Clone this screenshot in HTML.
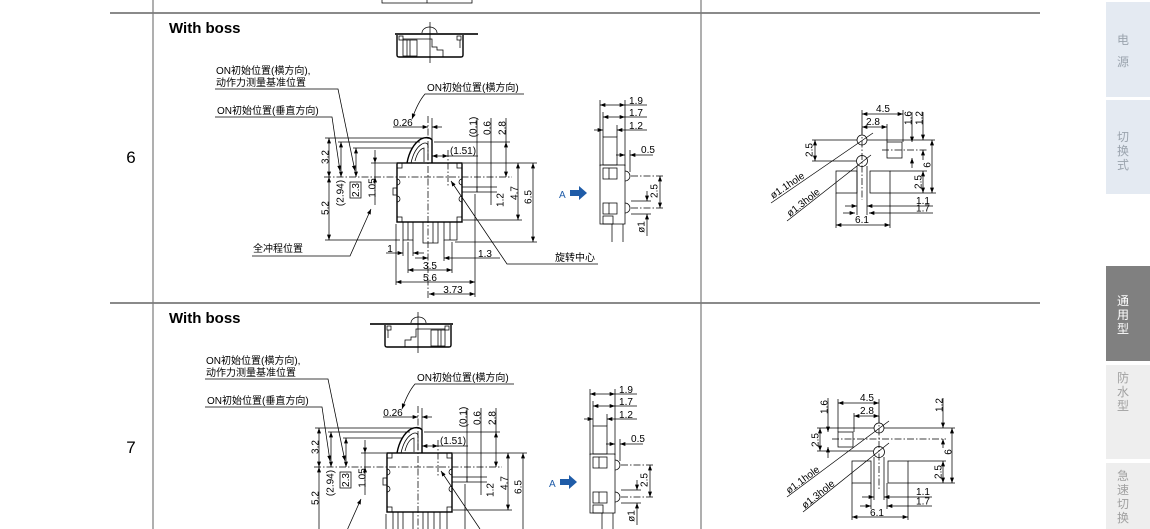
<!DOCTYPE html>
<html><head><meta charset="utf-8">
<style>
html,body{margin:0;padding:0;background:#fff;width:1150px;height:529px;overflow:hidden}
#w{position:relative;width:1150px;height:529px;overflow:hidden}
svg{display:block;overflow:hidden}
.d line,.d path,.d polyline,.d rect,.d circle{fill:none;stroke:#000;stroke-width:.75}
.b{fill:none;stroke:#000;stroke-width:1.4}
.c{stroke-dasharray:7,2,1.5,2}
text{font-family:"Liberation Sans","Noto Sans CJK SC",sans-serif;font-size:10px;fill:#000}
.m{text-anchor:middle}
.sb{font-size:12px;text-anchor:middle}
</style></head>
<body><div id="w">
<svg width="1150" height="529" viewBox="0 0 1150 529" xmlns="http://www.w3.org/2000/svg">
<defs>
<marker id="ar" viewBox="0 0 8 6" refX="8" refY="3" markerWidth="6" markerHeight="4" orient="auto-start-reverse" markerUnits="userSpaceOnUse"><path d="M0,0 L8,3 L0,6z" fill="#000"/></marker>
</defs>

<!-- table frame -->
<line x1="110" y1="13" x2="1040" y2="13" stroke="#8a8a8a" stroke-width="2"/>
<line x1="110" y1="303" x2="1040" y2="303" stroke="#8a8a8a" stroke-width="2"/>
<line x1="153" y1="0" x2="153" y2="529" stroke="#7a7a7a" stroke-width="1.2"/>
<line x1="701" y1="0" x2="701" y2="529" stroke="#7a7a7a" stroke-width="1.2"/>

<!-- previous row remnant -->
<g class="d"><path d="M382,0 V3 H472 V0"/><line x1="427" y1="0" x2="427" y2="3"/></g>

<!-- row numbers -->
<text x="131" y="163" class="m" style="font-size:17px">6</text>
<text x="131" y="453" class="m" style="font-size:17px">7</text>

<text x="169" y="33" style="font-size:15px;font-weight:bold">With boss</text>
<text x="169" y="323" style="font-size:15px;font-weight:bold">With boss</text>

<!-- ===== ROW 6 top view ===== -->
<g>
<line x1="395" y1="34" x2="478" y2="34" stroke="#333" stroke-width="2"/>
<path class="b" d="M397,35 V55 Q397,57 399,57 H461 Q463,57 463,55 V35"/>
<g class="d">
<path d="M422,33 A7.5,6 0 0 1 437,33"/>
<line x1="430" y1="22" x2="430" y2="63"/>
<rect x="403" y="40" width="14" height="16"/>
<line x1="407" y1="40" x2="407" y2="56"/><line x1="410" y1="40" x2="410" y2="56"/>
<path d="M403,39 H432 V47 H437 V50 H443 V57"/>
<rect x="399" y="36" width="4" height="4"/><rect x="457" y="36" width="4" height="4"/>
<line x1="460" y1="40" x2="460" y2="48"/>
</g></g>

<!-- ===== ROW 7 top view (mirrored) ===== -->
<g transform="translate(848,290) scale(-1,1)">
<line x1="395" y1="34" x2="478" y2="34" stroke="#333" stroke-width="2"/>
<path class="b" d="M397,35 V55 Q397,57 399,57 H461 Q463,57 463,55 V35"/>
<g class="d">
<path d="M422,33 A7.5,6 0 0 1 437,33"/>
<line x1="430" y1="22" x2="430" y2="63"/>
<rect x="403" y="40" width="14" height="16"/>
<line x1="407" y1="40" x2="407" y2="56"/><line x1="410" y1="40" x2="410" y2="56"/>
<path d="M403,39 H432 V47 H437 V50 H443 V57"/>
<rect x="399" y="36" width="4" height="4"/><rect x="457" y="36" width="4" height="4"/>
<line x1="460" y1="40" x2="460" y2="48"/>
</g></g>

<!-- ===== ROW 6 main drawing ===== -->
<g>
<g class="d">
 <polyline points="215,89 338,89 355,171" marker-end="url(#ar)"/>
 <polyline points="215,117 332,117 340,171" marker-end="url(#ar)"/>
 <path d="M524,94 H425 Q418,102 412,119" marker-end="url(#ar)"/>
 <line class="c" x1="428" y1="116" x2="428" y2="298"/>
 <line class="c" x1="324" y1="177" x2="512" y2="177"/>
 <line x1="325" y1="138" x2="427" y2="138"/>
 <line x1="338" y1="142" x2="420" y2="142"/>
 <line x1="434" y1="142" x2="510" y2="142"/>
 <line x1="353" y1="148" x2="412" y2="148"/>
 <line x1="371" y1="163" x2="396" y2="163"/>
 <line x1="325" y1="240" x2="400" y2="240"/>
 <line x1="455" y1="242" x2="537" y2="242"/>
 <line x1="463" y1="163" x2="537" y2="163"/>
 <line x1="463" y1="220" x2="522" y2="220"/>
 <line x1="477" y1="187" x2="497" y2="187"/>
 <line x1="477" y1="192" x2="497" y2="192"/>
 <line x1="329" y1="138" x2="329" y2="177" marker-start="url(#ar)" marker-end="url(#ar)"/>
 <line x1="329" y1="177" x2="329" y2="240" marker-start="url(#ar)" marker-end="url(#ar)"/>
 <line x1="341" y1="142" x2="341" y2="177" marker-start="url(#ar)" marker-end="url(#ar)"/>
 <line x1="356" y1="148" x2="356" y2="177" marker-start="url(#ar)" marker-end="url(#ar)"/>
 <line x1="375" y1="150" x2="375" y2="163" marker-end="url(#ar)"/>
 <line x1="375" y1="163" x2="375" y2="177"/>
 <line x1="375" y1="205" x2="375" y2="177" marker-end="url(#ar)"/>
 <line x1="477" y1="118" x2="477" y2="192"/>
 <line x1="491" y1="118" x2="491" y2="205"/>
 <line x1="506" y1="118" x2="506" y2="142"/>
 <line x1="506" y1="142" x2="506" y2="177" marker-start="url(#ar)" marker-end="url(#ar)"/>
 <line x1="518" y1="163" x2="518" y2="220" marker-start="url(#ar)" marker-end="url(#ar)"/>
 <line x1="533" y1="163" x2="533" y2="242" marker-start="url(#ar)" marker-end="url(#ar)"/>
 <line x1="432" y1="156" x2="448" y2="156" marker-start="url(#ar)" marker-end="url(#ar)"/>
 <line x1="448" y1="156" x2="478" y2="156"/>
 <line class="c" x1="448" y1="150" x2="448" y2="186"/>
 <line x1="393" y1="127" x2="428" y2="127" marker-end="url(#ar)"/>
 <line x1="442" y1="127" x2="432" y2="127" marker-end="url(#ar)"/>
 <line x1="432" y1="118" x2="432" y2="142"/>
 <rect x="397" y="163" width="5" height="5"/><rect x="457" y="163" width="5" height="5"/>
 <rect x="397" y="217" width="5" height="5"/><rect x="457" y="217" width="5" height="5"/>
 <path d="M397,179 a3,3 0 0 1 0,6"/><path d="M397,196 a3,3 0 0 1 0,6"/>
 <path d="M462,179 a3,3 0 0 0 0,6"/><path d="M462,196 a3,3 0 0 0 0,6"/>
 <rect x="393" y="188" width="4" height="7"/>
 <rect x="462" y="187" width="15" height="5"/>
 <path d="M411,163 C413,154 417,147 422,144 C425,142 428,143 428,146 L428,160"/>
 <path d="M415,161 C417,153 420,149 424,148 L424,162"/>
 <rect x="403" y="222" width="10" height="18"/>
 <rect x="423" y="222" width="15" height="21"/>
 <rect x="444" y="222" width="13" height="18"/>
 <line x1="408" y1="222" x2="408" y2="240"/><line x1="433" y1="222" x2="433" y2="243"/><line x1="450" y1="222" x2="450" y2="240"/>
 <line x1="386" y1="253" x2="403" y2="253" marker-end="url(#ar)"/>
 <line x1="424" y1="253" x2="413" y2="253" marker-end="url(#ar)"/>
 <line x1="403" y1="240" x2="403" y2="256"/><line x1="413" y1="240" x2="413" y2="256"/>
 <line x1="415" y1="258" x2="428" y2="258" marker-end="url(#ar)"/>
 <line x1="500" y1="258" x2="444" y2="258" marker-end="url(#ar)"/>
 <line x1="444" y1="240" x2="444" y2="261"/>
 <line x1="408" y1="270" x2="452" y2="270" marker-start="url(#ar)" marker-end="url(#ar)"/>
 <line x1="408" y1="242" x2="408" y2="273"/><line x1="452" y1="242" x2="452" y2="273"/>
 <line x1="396" y1="282" x2="475" y2="282" marker-start="url(#ar)" marker-end="url(#ar)"/>
 <line x1="396" y1="224" x2="396" y2="285"/>
 <line x1="475" y1="194" x2="475" y2="297"/>
 <line x1="429" y1="294" x2="475" y2="294" marker-start="url(#ar)" marker-end="url(#ar)"/>
 <polyline points="252,256 350,256 371,209" marker-end="url(#ar)"/>
 <polyline points="598,264 507,264 451,181" marker-end="url(#ar)"/>
 <rect x="350" y="182" width="11" height="16"/>
</g>
<rect class="b" x="397" y="163" width="65" height="59"/>
<path class="b" d="M407,163 C409,152 414,143 421,139 C425,137 430,137 432,140 L432,163"/>
<text x="216" y="74">ON初始位置(横方向),</text>
<text x="216" y="86">动作力测量基准位置</text>
<text x="217" y="114">ON初始位置(垂直方向)</text>
<text x="427" y="91">ON初始位置(横方向)</text>
<text x="253" y="252">全冲程位置</text>
<text x="555" y="261">旋转中心</text>
<text x="403" y="126" class="m">0.26</text>
<text x="463" y="154" class="m">(1.51)</text>
<text x="390" y="252" class="m">1</text>
<text x="485" y="257" class="m">1.3</text>
<text x="430" y="269" class="m">3.5</text>
<text x="430" y="281" class="m">5.6</text>
<text x="453" y="293" class="m">3.73</text>
<text class="m" dy="3.5" transform="translate(325,157) rotate(-90)">3.2</text>
<text class="m" dy="3.5" transform="translate(325,208) rotate(-90)">5.2</text>
<text class="m" dy="3.5" transform="translate(340,193) rotate(-90)">(2.94)</text>
<text class="m" dy="3.5" transform="translate(355.5,190) rotate(-90)">2.3</text>
<text class="m" dy="3.5" transform="translate(372,188) rotate(-90)">1.05</text>
<text class="m" dy="3.5" transform="translate(473,127) rotate(-90)">(0.1)</text>
<text class="m" dy="3.5" transform="translate(487,128) rotate(-90)">0.6</text>
<text class="m" dy="3.5" transform="translate(502,128) rotate(-90)">2.8</text>
<text class="m" dy="3.5" transform="translate(500,200) rotate(-90)">1.2</text>
<text class="m" dy="3.5" transform="translate(514,193) rotate(-90)">4.7</text>
<text class="m" dy="3.5" transform="translate(528,197) rotate(-90)">6.5</text>
</g>

<!-- ===== ROW 7 main drawing (trimmed at frame bottom) ===== -->
<g transform="translate(-10,290)">
<g class="d">
 <polyline points="215,89 338,89 355,171" marker-end="url(#ar)"/>
 <polyline points="215,117 332,117 340,171" marker-end="url(#ar)"/>
 <path d="M524,94 H425 Q418,102 412,119" marker-end="url(#ar)"/>
 <line class="c" x1="428" y1="116" x2="428" y2="239"/>
 <line class="c" x1="324" y1="177" x2="512" y2="177"/>
 <line x1="325" y1="138" x2="427" y2="138"/>
 <line x1="338" y1="142" x2="420" y2="142"/>
 <line x1="434" y1="142" x2="510" y2="142"/>
 <line x1="353" y1="148" x2="412" y2="148"/>
 <line x1="371" y1="163" x2="396" y2="163"/>
 <line x1="463" y1="163" x2="537" y2="163"/>
 <line x1="463" y1="220" x2="522" y2="220"/>
 <line x1="477" y1="187" x2="497" y2="187"/>
 <line x1="477" y1="192" x2="497" y2="192"/>
 <line x1="329" y1="138" x2="329" y2="177" marker-start="url(#ar)" marker-end="url(#ar)"/>
 <line x1="329" y1="177" x2="329" y2="239" marker-start="url(#ar)"/>
 <line x1="341" y1="142" x2="341" y2="177" marker-start="url(#ar)" marker-end="url(#ar)"/>
 <line x1="356" y1="148" x2="356" y2="177" marker-start="url(#ar)" marker-end="url(#ar)"/>
 <line x1="375" y1="150" x2="375" y2="163" marker-end="url(#ar)"/>
 <line x1="375" y1="163" x2="375" y2="177"/>
 <line x1="375" y1="205" x2="375" y2="177" marker-end="url(#ar)"/>
 <line x1="477" y1="118" x2="477" y2="192"/>
 <line x1="491" y1="118" x2="491" y2="205"/>
 <line x1="506" y1="118" x2="506" y2="142"/>
 <line x1="506" y1="142" x2="506" y2="177" marker-start="url(#ar)" marker-end="url(#ar)"/>
 <line x1="518" y1="163" x2="518" y2="220" marker-start="url(#ar)" marker-end="url(#ar)"/>
 <line x1="533" y1="163" x2="533" y2="239" marker-start="url(#ar)"/>
 <line x1="432" y1="156" x2="448" y2="156" marker-start="url(#ar)" marker-end="url(#ar)"/>
 <line x1="448" y1="156" x2="478" y2="156"/>
 <line class="c" x1="448" y1="150" x2="448" y2="186"/>
 <line x1="393" y1="127" x2="428" y2="127" marker-end="url(#ar)"/>
 <line x1="442" y1="127" x2="432" y2="127" marker-end="url(#ar)"/>
 <line x1="432" y1="118" x2="432" y2="142"/>
 <rect x="397" y="163" width="5" height="5"/><rect x="457" y="163" width="5" height="5"/>
 <rect x="397" y="217" width="5" height="5"/><rect x="457" y="217" width="5" height="5"/>
 <path d="M397,179 a3,3 0 0 1 0,6"/><path d="M397,196 a3,3 0 0 1 0,6"/>
 <path d="M462,179 a3,3 0 0 0 0,6"/><path d="M462,196 a3,3 0 0 0 0,6"/>
 <rect x="393" y="188" width="4" height="7"/>
 <rect x="462" y="187" width="15" height="5"/>
 <path d="M411,163 C413,154 417,147 422,144 C425,142 428,143 428,146 L428,160"/>
 <path d="M415,161 C417,153 420,149 424,148 L424,162"/>
 <path d="M403,239 V222 H413 V239"/>
 <path d="M423,239 V222 H438 V239"/>
 <path d="M444,239 V222 H457 V239"/>
 <line x1="408" y1="222" x2="408" y2="239"/><line x1="433" y1="222" x2="433" y2="239"/><line x1="450" y1="222" x2="450" y2="239"/>
 <line x1="396" y1="224" x2="396" y2="239"/>
 <line x1="475" y1="194" x2="475" y2="239"/>
 <line x1="357.6" y1="239" x2="371" y2="209" marker-end="url(#ar)"/>
 <line x1="490" y1="239" x2="451" y2="181" marker-end="url(#ar)"/>
 <rect x="350" y="182" width="11" height="16"/>
</g>
<rect class="b" x="397" y="163" width="65" height="59"/>
<path class="b" d="M407,163 C409,152 414,143 421,139 C425,137 430,137 432,140 L432,163"/>
<text x="216" y="74">ON初始位置(横方向),</text>
<text x="216" y="86">动作力测量基准位置</text>
<text x="217" y="114">ON初始位置(垂直方向)</text>
<text x="427" y="91">ON初始位置(横方向)</text>
<text x="403" y="126" class="m">0.26</text>
<text x="463" y="154" class="m">(1.51)</text>
<text class="m" dy="3.5" transform="translate(325,157) rotate(-90)">3.2</text>
<text class="m" dy="3.5" transform="translate(325,208) rotate(-90)">5.2</text>
<text class="m" dy="3.5" transform="translate(340,193) rotate(-90)">(2.94)</text>
<text class="m" dy="3.5" transform="translate(355.5,190) rotate(-90)">2.3</text>
<text class="m" dy="3.5" transform="translate(372,188) rotate(-90)">1.05</text>
<text class="m" dy="3.5" transform="translate(473,127) rotate(-90)">(0.1)</text>
<text class="m" dy="3.5" transform="translate(487,128) rotate(-90)">0.6</text>
<text class="m" dy="3.5" transform="translate(502,128) rotate(-90)">2.8</text>
<text class="m" dy="3.5" transform="translate(500,200) rotate(-90)">1.2</text>
<text class="m" dy="3.5" transform="translate(514,193) rotate(-90)">4.7</text>
<text class="m" dy="3.5" transform="translate(528,197) rotate(-90)">6.5</text>
</g>

<!-- ===== Side view row 6 ===== -->
<g>
<g class="d">
<line x1="600" y1="100" x2="600" y2="166"/>
<line x1="625" y1="100" x2="625" y2="166"/>
<line x1="603" y1="112" x2="603" y2="137"/>
<line x1="617" y1="125" x2="617" y2="137"/>
<line x1="600" y1="105" x2="625" y2="105" marker-start="url(#ar)" marker-end="url(#ar)"/>
<line x1="625" y1="105" x2="647" y2="105"/>
<line x1="603" y1="117" x2="625" y2="117" marker-start="url(#ar)" marker-end="url(#ar)"/>
<line x1="625" y1="117" x2="647" y2="117"/>
<line x1="594" y1="130" x2="603" y2="130" marker-end="url(#ar)"/>
<line x1="630" y1="130" x2="617" y2="130" marker-end="url(#ar)"/>
<line x1="630" y1="130" x2="647" y2="130"/>
<line x1="616" y1="155" x2="625" y2="155" marker-end="url(#ar)"/>
<line x1="640" y1="155" x2="630" y2="155" marker-end="url(#ar)"/>
<line x1="640" y1="155" x2="653" y2="155"/>
<line x1="630" y1="150" x2="630" y2="172"/>
<rect x="603" y="137" width="14" height="28"/>
<rect x="600" y="165" width="25" height="59"/>
<rect x="603" y="168" width="14" height="11"/>
<line x1="609" y1="168" x2="609" y2="179"/>
<rect x="603" y="203" width="14" height="11"/>
<line x1="609" y1="203" x2="609" y2="214"/>
<rect x="603" y="216" width="10" height="8"/>
<path d="M625,171 a5,5 0 0 1 0,10"/>
<path d="M625,203 a5,5 0 0 1 0,10"/>
<line x1="612" y1="224" x2="612" y2="242"/>
<line x1="623" y1="224" x2="623" y2="242"/>
<line class="c" x1="631" y1="176" x2="665" y2="176"/>
<line class="c" x1="631" y1="208" x2="665" y2="208"/>
<line x1="660" y1="176" x2="660" y2="208" marker-start="url(#ar)" marker-end="url(#ar)"/>
<line x1="631" y1="201" x2="651" y2="201"/>
<line x1="631" y1="214" x2="651" y2="214"/>
<line x1="647" y1="191" x2="647" y2="201" marker-end="url(#ar)"/>
<line x1="647" y1="236" x2="647" y2="214" marker-end="url(#ar)"/>
</g>
<text x="636" y="104" class="m">1.9</text>
<text x="636" y="116" class="m">1.7</text>
<text x="636" y="129" class="m">1.2</text>
<text x="648" y="153" class="m">0.5</text>
<text class="m" dy="3.5" transform="translate(654,191) rotate(-90)">2.5</text>
<text class="m" dy="3.5" transform="translate(641,227) rotate(-90)">ø1</text>
<text x="559" y="198" style="fill:#1f5ca8">A</text>
<path d="M570,190 h9 v-4 l8,7 l-8,7 v-4 h-9z" fill="#1f5ca8"/>
</g>

<!-- ===== Side view row 7 ===== -->
<g transform="translate(-10,289)">
<g class="d">
<line x1="600" y1="100" x2="600" y2="166"/>
<line x1="625" y1="100" x2="625" y2="166"/>
<line x1="603" y1="112" x2="603" y2="137"/>
<line x1="617" y1="125" x2="617" y2="137"/>
<line x1="600" y1="105" x2="625" y2="105" marker-start="url(#ar)" marker-end="url(#ar)"/>
<line x1="625" y1="105" x2="647" y2="105"/>
<line x1="603" y1="117" x2="625" y2="117" marker-start="url(#ar)" marker-end="url(#ar)"/>
<line x1="625" y1="117" x2="647" y2="117"/>
<line x1="594" y1="130" x2="603" y2="130" marker-end="url(#ar)"/>
<line x1="630" y1="130" x2="617" y2="130" marker-end="url(#ar)"/>
<line x1="630" y1="130" x2="647" y2="130"/>
<line x1="616" y1="155" x2="625" y2="155" marker-end="url(#ar)"/>
<line x1="640" y1="155" x2="630" y2="155" marker-end="url(#ar)"/>
<line x1="640" y1="155" x2="653" y2="155"/>
<line x1="630" y1="150" x2="630" y2="172"/>
<rect x="603" y="137" width="14" height="28"/>
<rect x="600" y="165" width="25" height="59"/>
<rect x="603" y="168" width="14" height="11"/>
<line x1="609" y1="168" x2="609" y2="179"/>
<rect x="603" y="203" width="14" height="11"/>
<line x1="609" y1="203" x2="609" y2="214"/>
<rect x="603" y="216" width="10" height="8"/>
<path d="M625,171 a5,5 0 0 1 0,10"/>
<path d="M625,203 a5,5 0 0 1 0,10"/>
<line x1="612" y1="224" x2="612" y2="240"/>
<line x1="623" y1="224" x2="623" y2="240"/>
<line class="c" x1="631" y1="176" x2="665" y2="176"/>
<line class="c" x1="631" y1="208" x2="665" y2="208"/>
<line x1="660" y1="176" x2="660" y2="208" marker-start="url(#ar)" marker-end="url(#ar)"/>
<line x1="631" y1="201" x2="651" y2="201"/>
<line x1="631" y1="214" x2="651" y2="214"/>
<line x1="647" y1="191" x2="647" y2="201" marker-end="url(#ar)"/>
<line x1="647" y1="236" x2="647" y2="214" marker-end="url(#ar)"/>
</g>
<text x="636" y="104" class="m">1.9</text>
<text x="636" y="116" class="m">1.7</text>
<text x="636" y="129" class="m">1.2</text>
<text x="648" y="153" class="m">0.5</text>
<text class="m" dy="3.5" transform="translate(654,191) rotate(-90)">2.5</text>
<text class="m" dy="3.5" transform="translate(641,227) rotate(-90)">ø1</text>
<text x="559" y="198" style="fill:#1f5ca8">A</text>
<path d="M570,190 h9 v-4 l8,7 l-8,7 v-4 h-9z" fill="#1f5ca8"/>
</g>

<!-- ===== PCB row 6 ===== -->
<g class="d">
<circle cx="862" cy="140" r="5"/>
<circle cx="862" cy="161" r="5.5"/>
<line x1="812" y1="140" x2="857" y2="140"/>
<line x1="867" y1="140" x2="935" y2="140"/>
<line x1="812" y1="161" x2="856" y2="161"/>
<line x1="815" y1="140" x2="815" y2="161" marker-start="url(#ar)" marker-end="url(#ar)"/>
<rect x="887" y="142" width="15" height="16"/>
<line class="c" x1="882" y1="150" x2="927" y2="150"/>
<line class="c" x1="862" y1="128" x2="862" y2="200"/>
<rect x="836" y="171" width="21" height="22"/>
<rect x="870" y="171" width="20" height="22"/>
<line x1="890" y1="171" x2="927" y2="171"/>
<line x1="890" y1="193" x2="936" y2="193"/>
<line x1="923" y1="171" x2="923" y2="193" marker-start="url(#ar)" marker-end="url(#ar)"/>
<line x1="932" y1="140" x2="932" y2="193" marker-start="url(#ar)" marker-end="url(#ar)"/>
<line x1="862" y1="114" x2="903" y2="114" marker-start="url(#ar)" marker-end="url(#ar)"/>
<line x1="862" y1="127" x2="887" y2="127" marker-start="url(#ar)" marker-end="url(#ar)"/>
<line x1="862" y1="110" x2="862" y2="134"/>
<line x1="903" y1="110" x2="903" y2="142"/>
<line x1="887" y1="124" x2="887" y2="142"/>
<line x1="912" y1="112" x2="912" y2="142" marker-end="url(#ar)"/>
<line x1="912" y1="168" x2="912" y2="158" marker-end="url(#ar)"/>
<line x1="923" y1="112" x2="923" y2="140" marker-end="url(#ar)"/>
<line x1="923" y1="160" x2="923" y2="150" marker-end="url(#ar)"/>
<line x1="857" y1="166" x2="857" y2="215"/>
<line x1="867" y1="166" x2="867" y2="215"/>
<line x1="845" y1="206" x2="857" y2="206" marker-end="url(#ar)"/>
<line x1="933" y1="206" x2="867" y2="206" marker-end="url(#ar)"/>
<line x1="843" y1="213" x2="855" y2="213" marker-end="url(#ar)"/>
<line x1="933" y1="213" x2="869" y2="213" marker-end="url(#ar)"/>
<line x1="836" y1="193" x2="836" y2="228"/>
<line x1="890" y1="193" x2="890" y2="228"/>
<line x1="836" y1="225" x2="890" y2="225" marker-start="url(#ar)" marker-end="url(#ar)"/>
<line x1="771" y1="203" x2="873" y2="133"/>
<line x1="787" y1="221" x2="871" y2="155"/>
</g>
<text x="883" y="112" class="m">4.5</text>
<text x="873" y="125" class="m">2.8</text>
<text class="m" dy="3.5" transform="translate(908,118) rotate(-90)">1.6</text>
<text class="m" dy="3.5" transform="translate(919,118) rotate(-90)">1.2</text>
<text class="m" dy="3.5" transform="translate(809,150) rotate(-90)">2.5</text>
<text class="m" dy="3.5" transform="translate(927,165) rotate(-90)">6</text>
<text class="m" dy="3.5" transform="translate(918,182) rotate(-90)">2.5</text>
<text x="923" y="204" class="m">1.1</text>
<text x="923" y="211.5" class="m">1.7</text>
<text x="862" y="223" class="m">6.1</text>
<text transform="translate(773,199) rotate(-34)">ø1.1hole</text>
<text transform="translate(790,217) rotate(-38)">ø1.3hole</text>

<!-- ===== PCB row 7 ===== -->
<g class="d">
<circle cx="879" cy="428" r="5"/>
<circle cx="879" cy="452" r="5.5"/>
<line x1="817" y1="428" x2="874" y2="428"/>
<line x1="884" y1="428" x2="955" y2="428"/>
<line x1="817" y1="451" x2="873" y2="451"/>
<line class="c" x1="832" y1="439" x2="946" y2="439"/>
<line class="c" x1="879" y1="416" x2="879" y2="490"/>
<line x1="820" y1="428" x2="820" y2="451" marker-start="url(#ar)" marker-end="url(#ar)"/>
<rect x="838" y="432" width="15" height="15"/>
<rect x="852" y="461" width="19" height="22"/>
<rect x="888" y="461" width="20" height="22"/>
<line x1="908" y1="461" x2="946" y2="461"/>
<line x1="908" y1="483" x2="955" y2="483"/>
<line x1="943" y1="461" x2="943" y2="483" marker-start="url(#ar)" marker-end="url(#ar)"/>
<line x1="952" y1="428" x2="952" y2="483" marker-start="url(#ar)" marker-end="url(#ar)"/>
<line x1="943" y1="398" x2="943" y2="428" marker-end="url(#ar)"/>
<line x1="943" y1="448" x2="943" y2="439" marker-end="url(#ar)"/>
<line x1="828" y1="398" x2="828" y2="432" marker-end="url(#ar)"/>
<line x1="828" y1="458" x2="828" y2="447" marker-end="url(#ar)"/>
<line x1="838" y1="403" x2="879" y2="403" marker-start="url(#ar)" marker-end="url(#ar)"/>
<line x1="854" y1="416" x2="879" y2="416" marker-start="url(#ar)" marker-end="url(#ar)"/>
<line x1="838" y1="399" x2="838" y2="432"/>
<line x1="854" y1="413" x2="854" y2="432"/>
<line x1="879" y1="399" x2="879" y2="423"/>
<line x1="874" y1="457" x2="874" y2="500"/>
<line x1="884" y1="457" x2="884" y2="500"/>
<line x1="871" y1="483" x2="871" y2="509"/>
<line x1="887" y1="483" x2="887" y2="509"/>
<line x1="862" y1="497" x2="874" y2="497" marker-end="url(#ar)"/>
<line x1="932" y1="497" x2="884" y2="497" marker-end="url(#ar)"/>
<line x1="860" y1="506" x2="871" y2="506" marker-end="url(#ar)"/>
<line x1="932" y1="506" x2="887" y2="506" marker-end="url(#ar)"/>
<line x1="852" y1="483" x2="852" y2="520"/>
<line x1="908" y1="483" x2="908" y2="520"/>
<line x1="852" y1="517" x2="908" y2="517" marker-start="url(#ar)" marker-end="url(#ar)"/>
<line x1="787" y1="497" x2="889" y2="421"/>
<line x1="803" y1="512" x2="889" y2="443"/>
</g>
<text x="867" y="401" class="m">4.5</text>
<text x="867" y="414" class="m">2.8</text>
<text class="m" dy="3.5" transform="translate(824,407) rotate(-90)">1.6</text>
<text class="m" dy="3.5" transform="translate(939,405) rotate(-90)">1.2</text>
<text class="m" dy="3.5" transform="translate(815,440) rotate(-90)">2.5</text>
<text class="m" dy="3.5" transform="translate(948,452) rotate(-90)">6</text>
<text class="m" dy="3.5" transform="translate(938,472) rotate(-90)">2.5</text>
<text x="923" y="495" class="m">1.1</text>
<text x="923" y="504.5" class="m">1.7</text>
<text x="877" y="516" class="m">6.1</text>
<text transform="translate(789,494) rotate(-36.7)">ø1.1hole</text>
<text transform="translate(805,509) rotate(-38.7)">ø1.3hole</text>

<!-- ===== Sidebar ===== -->
<rect x="1106" y="2" width="44" height="95" fill="#e4eaf2"/>
<rect x="1106" y="100" width="44" height="94" fill="#e4eaf2"/>
<rect x="1106" y="266" width="44" height="95" fill="#808080"/>
<rect x="1106" y="365" width="44" height="94" fill="#eeeeee"/>
<rect x="1106" y="463" width="44" height="66" fill="#eeeeee"/>
<text x="1123" y="44" class="sb" style="fill:#9aa3ad">电</text>
<text x="1123" y="66" class="sb" style="fill:#9aa3ad">源</text>
<text x="1123" y="141" class="sb" style="fill:#9aa3ad">切</text>
<text x="1123" y="155" class="sb" style="fill:#9aa3ad">换</text>
<text x="1123" y="169" class="sb" style="fill:#9aa3ad">式</text>
<text x="1123" y="305" class="sb" style="fill:#fff">通</text>
<text x="1123" y="319" class="sb" style="fill:#fff">用</text>
<text x="1123" y="333" class="sb" style="fill:#fff">型</text>
<text x="1123" y="382" class="sb" style="fill:#a0a0a0">防</text>
<text x="1123" y="396" class="sb" style="fill:#a0a0a0">水</text>
<text x="1123" y="410" class="sb" style="fill:#a0a0a0">型</text>
<text x="1123" y="480" class="sb" style="fill:#a0a0a0">急</text>
<text x="1123" y="494" class="sb" style="fill:#a0a0a0">速</text>
<text x="1123" y="508" class="sb" style="fill:#a0a0a0">切</text>
<text x="1123" y="522" class="sb" style="fill:#a0a0a0">换</text>
</svg>
</div></body></html>
